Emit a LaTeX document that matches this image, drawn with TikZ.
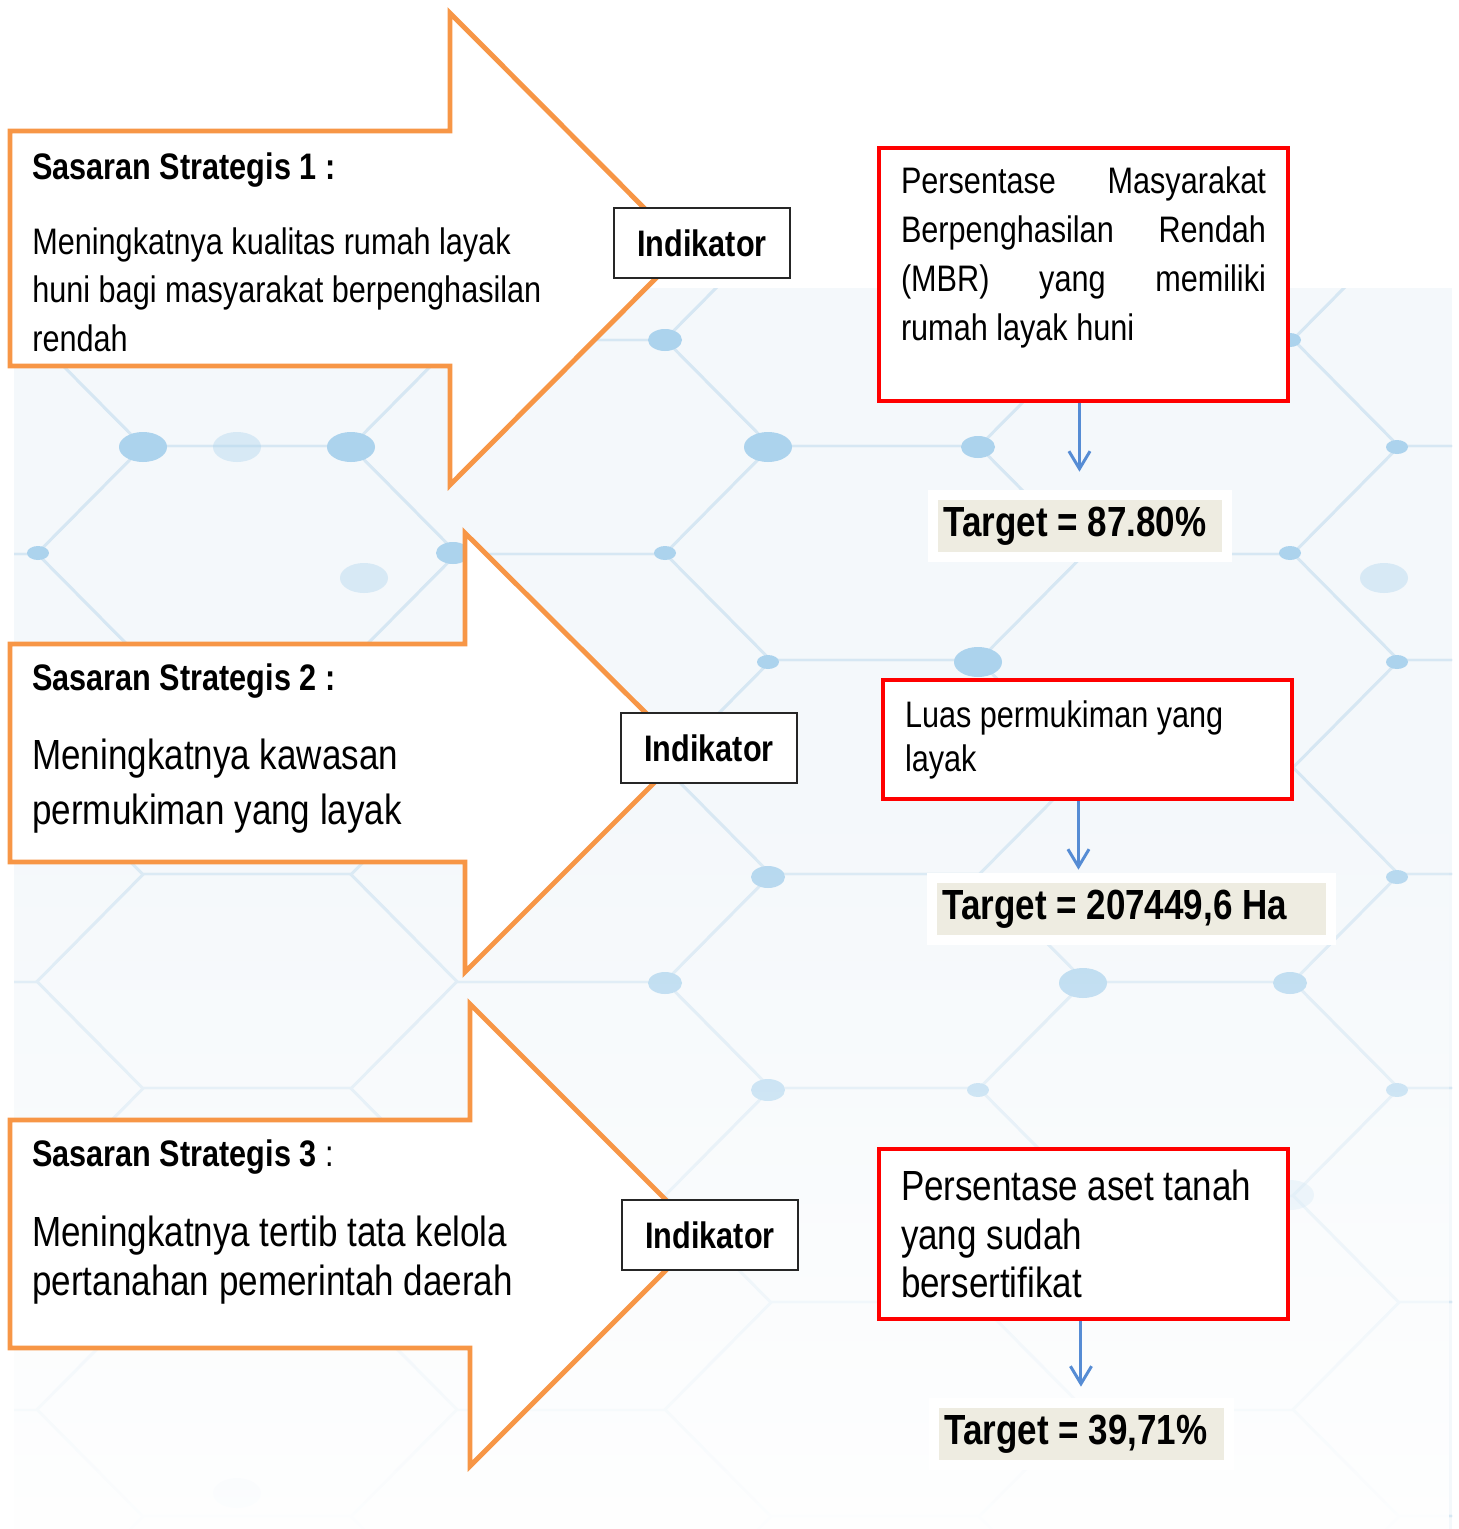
\documentclass[tikz,border=0pt]{standalone}
\usepackage{fontspec}
\setmainfont[FakeStretch=0.83]{Liberation Sans}
\usetikzlibrary{positioning,arrows.meta,fadings}

\definecolor{arroworange}{RGB}{247,150,70}
\definecolor{boxred}{RGB}{255,0,0}
\definecolor{downblue}{RGB}{86,140,212}
\definecolor{tanbg}{RGB}{238,236,225}
\definecolor{bgpaper}{RGB}{244,248,251}
\definecolor{hexline}{RGB}{214,231,243}
\definecolor{hexdot}{RGB}{172,211,237}

\newcommand{\rapat}{\spaceskip=0pt\xspaceskip=0pt\relax}

\tikzfading[name=bgfade, top color=transparent!100, bottom color=transparent!5]

\tikzset{
  strat/.style={draw=arroworange, line width=2.8pt, fill=white},
  headtxt/.style={anchor=base west, inner sep=0pt, font=\fontsize{21}{25}\selectfont\bfseries},
  bodytxt/.style={anchor=north west, inner sep=0pt, align=left},
  indbox/.style={draw=black!85, line width=0.9pt, fill=white, minimum width=3.52cm, minimum height=1.4cm, inner sep=0pt, font=\fontsize{21}{25}\selectfont\bfseries},
  redbox/.style={draw=boxred, line width=2.3pt, fill=white, anchor=north west, text width=7.3cm, inner xsep=0.44cm, align=left},
  target/.style={fill=tanbg, preaction={draw=white, line width=0.4cm}, anchor=west, inner xsep=0.1cm, minimum height=1.04cm, align=left, font=\fontsize{24}{28}\selectfont\bfseries},
  downarrow/.style={draw=downblue, line width=1.7pt, -{Straight Barb[length=10pt,width=12pt]}}
}

\begin{document}
\begin{tikzpicture}[x=0.02cm, y=-0.02cm]
  \useasboundingbox (0,0) rectangle (1458,1529);

  % background
  \fill[bgpaper] (14,288) rectangle (1452,1529);
  \begin{scope}
    \clip (14,288) rectangle (1452,1529);
    \foreach \k in {0,...,5}{
      \foreach \m in {-1,...,6}{
        \pgfmathsetmacro{\cx}{-67+314*\k}
        \pgfmathsetmacro{\cy}{447+106*mod(\k,2)+214*\m}
        \draw[hexline, line width=1.3pt] (\cx-210,\cy) -- (\cx-104,\cy-107) -- (\cx+104,\cy-107) -- (\cx+210,\cy) -- (\cx+104,\cy+107) -- (\cx-104,\cy+107) -- cycle;
      }
    }
    \foreach \px/\py in {143/447, 351/447, 768/447, 978/662, 1083/983}
      \fill[hexdot] (\px,\py) ellipse [x radius=24, y radius=15];
    \foreach \px/\py in {665/340, 978/447, 453/553, 768/877, 768/1090, 665/983, 1290/983}
      \fill[hexdot] (\px,\py) ellipse [x radius=17, y radius=11];
    \foreach \px/\py in {38/553, 665/553, 768/662, 1290/340, 1397/447, 1290/553, 1397/662, 1397/877, 978/1090, 1397/1090}
      \fill[hexdot] (\px,\py) ellipse [x radius=11, y radius=7];
    \foreach \px/\py in {237/447, 364/578, 1384/578, 1290/1195, 237/1493}
      \fill[hexdot, opacity=0.4] (\px,\py) ellipse [x radius=24, y radius=15];
  \end{scope}
  \fill[white, path fading=bgfade] (14,760) rectangle (1452,1529);

  % strategic goal arrows
  \draw[strat] (10,131) -- (450,131) -- (450,13) -- (685,249) -- (450,485) -- (450,366) -- (10,366) -- cycle;
  \draw[strat] (10,644) -- (465,644) -- (465,533) -- (685,752) -- (465,972) -- (465,862) -- (10,862) -- cycle;
  \draw[strat] (10,1120) -- (470,1120) -- (470,1004) -- (701,1235) -- (470,1466) -- (470,1348) -- (10,1348) -- cycle;

  \node[headtxt] (sas1) at (32,179) {Sasaran Strategis 1 :};
  \node[bodytxt, font=\fontsize{21}{27.8}\selectfont] (isi1) at (32,227) {Meningkatnya kualitas rumah layak\\huni bagi masyarakat berpenghasilan\\rendah};
  \node[headtxt] (sas2) at (32,690) {Sasaran Strategis 2 :};
  \node[bodytxt, font=\fontsize{24}{31.2}\selectfont] (isi2) at (32,739) {Meningkatnya kawasan\\permukiman yang layak};
  \node[headtxt] (sas3) at (32,1166) {Sasaran Strategis 3 \mdseries:};
  \node[bodytxt, font=\fontsize{24}{27.8}\selectfont] (isi3) at (32,1216) {Meningkatnya tertib tata kelola\\pertanahan pemerintah daerah};

  \node[indbox] (ind1) at (702,243) {Indikator};
  \node[indbox] (ind2) at (709,748) {Indikator};
  \node[indbox] (ind3) at (710,1235) {Indikator};

  % indicators and targets
  \node[redbox, minimum height=5.06cm, font=\fontsize{21}{27.8}\selectfont] (mbr) at (877,146) {\rapat Persentase\hfill Masyarakat\\Berpenghasilan\hfill Rendah\\(MBR)\hfill yang\hfill memiliki\\rumah layak huni\rule[-0.84cm]{0pt}{0pt}};
  \node[redbox, minimum height=2.38cm, font=\fontsize{21}{25}\selectfont] (luas) at (881,678) {\rapat Luas permukiman yang\\layak};
  \node[redbox, minimum height=3.4cm, font=\fontsize{24}{27.8}\selectfont] (aset) at (877,1147) {\rapat Persentase aset tanah\\yang sudah\\bersertifikat};

  \node[target, text width=5.48cm] (tgt1) at (938,526) {\rapat Target = 87.80\%};
  \node[target, text width=7.58cm] (tgt2) at (937,909) {\rapat Target = 207449,6 Ha};
  \node[target, text width=5.5cm] (tgt3) at (939,1434) {\rapat Target = 39,71\%};

  \draw[downarrow, shorten >=0.56cm] ([xshift=-0.08cm]mbr.south) -- ([xshift=-0.08cm]mbr.south |- tgt1.north);
  \draw[downarrow, shorten >=0.26cm] ([xshift=-0.18cm]luas.south) -- ([xshift=-0.18cm]luas.south |- tgt2.north);
  \draw[downarrow, shorten >=0.42cm] ([xshift=-0.05cm]aset.south) -- ([xshift=-0.05cm]aset.south |- tgt3.north);
\end{tikzpicture}
\end{document}
